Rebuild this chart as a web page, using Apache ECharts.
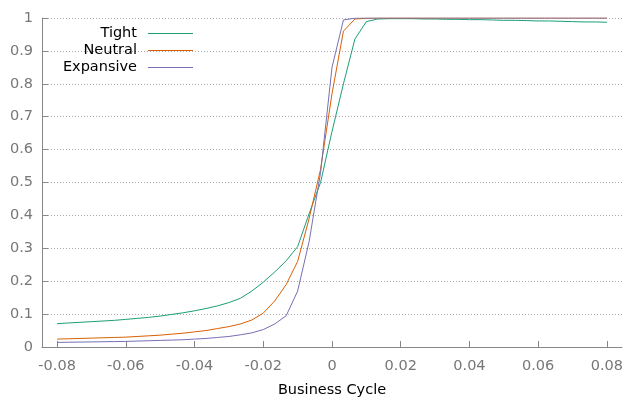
<!DOCTYPE html>
<html>
<head>
<meta charset="utf-8">
<script src="https://cdn.jsdelivr.net/npm/echarts@6/dist/echarts.min.js"></script>
<style>
html,body{margin:0;padding:0;background:#fff;}
#chart{width:627px;height:399px;}
</style>
</head>
<body>
<div id="chart"></div>
<script>
var xs = [-0.08, -0.07667, -0.07333, -0.07, -0.06667, -0.06333, -0.06, -0.05667, -0.05333, -0.05,
  -0.04667, -0.04333, -0.04, -0.03667, -0.03333, -0.03, -0.02667, -0.02333, -0.02, -0.01667,
  -0.01333, -0.01, -0.00667, -0.00333, 0, 0.00333, 0.00667, 0.01, 0.01333, 0.01667,
  0.02, 0.02333, 0.02667, 0.03, 0.03333, 0.03667, 0.04, 0.04333, 0.04667, 0.05,
  0.05333, 0.05667, 0.06, 0.06333, 0.06667, 0.07, 0.07333, 0.07667, 0.08];

var tight = [0.071, 0.073, 0.075, 0.077, 0.079, 0.081, 0.084, 0.087, 0.090, 0.094,
  0.099, 0.104, 0.110, 0.117, 0.125, 0.135, 0.148, 0.170, 0.197, 0.228,
  0.262, 0.305, 0.405, 0.500, 0.655, 0.800, 0.936, 0.989, 0.997, 0.998,
  0.998, 0.998, 0.997, 0.997, 0.996, 0.996, 0.995, 0.995, 0.994, 0.993,
  0.993, 0.992, 0.991, 0.991, 0.990, 0.989, 0.988, 0.988, 0.987];

var neutral = [0.024, 0.025, 0.026, 0.027, 0.028, 0.029, 0.030, 0.032, 0.034, 0.036,
  0.039, 0.042, 0.046, 0.050, 0.056, 0.062, 0.070, 0.082, 0.103, 0.140,
  0.190, 0.260, 0.390, 0.540, 0.770, 0.960, 0.997, 0.999, 1, 1,
  1, 1, 1, 1, 1, 1, 1, 1, 1, 1,
  1, 1, 1, 1, 1, 1, 1, 1, 1];

var expansive = [0.014, 0.0145, 0.015, 0.0155, 0.016, 0.0165, 0.017, 0.018, 0.019, 0.020,
  0.021, 0.022, 0.024, 0.026, 0.029, 0.032, 0.037, 0.043, 0.053, 0.070,
  0.095, 0.170, 0.320, 0.530, 0.850, 0.994, 0.9995, 1, 1, 1,
  1, 1, 1, 1, 1, 1, 1, 1, 1, 1,
  1, 1, 1, 1, 1, 1, 1, 1, 1];

var xTicks = [-0.08, -0.06, -0.04, -0.02, 0, 0.02, 0.04, 0.06, 0.08];
var seriesNames = ['Tight', 'Neutral', 'Expansive'];
var colors = ['#1b9e77', '#d95f02', '#7570b3'];

function pairs(ys) {
  return xs.map(function (x, i) { return [x, ys[i]]; });
}

var FONT = 'DejaVu Sans';
var chart = echarts.init(document.getElementById('chart'), null, {renderer: 'canvas'});

var legendTops = [26, 43, 60];
var legends = seriesNames.map(function (n, i) {
  return {
    data: [{name: n, icon: 'rect'}],
    right: 434,
    top: legendTops[i],
    align: 'right',
    orient: 'vertical',
    itemWidth: 45,
    itemHeight: 1,
    padding: 0,
    selectedMode: false,
    textStyle: {fontFamily: FONT, fontSize: 14.5, color: '#000', padding: [0, 6, 0, 0]}
  };
});

chart.setOption({
  animation: false,
  backgroundColor: '#fff',
  color: colors,
  grid: {left: 42, right: 5, top: 18, bottom: 52, outerBoundsMode: 'none'},
  legend: legends,
  xAxis: {
    type: 'value',
    min: -0.0844,
    max: 0.0844,
    name: 'Business Cycle',
    nameLocation: 'middle',
    nameGap: 36,
    nameTextStyle: {fontFamily: FONT, fontSize: 14.5, color: '#000'},
    axisLine: {show: true, onZero: false, lineStyle: {color: '#888', width: 1}},
    axisTick: {show: true, inside: true, length: 6, customValues: xTicks, lineStyle: {color: '#888'}},
    axisLabel: {
      customValues: xTicks,
      margin: 12,
      fontFamily: FONT, fontSize: 14.5, color: '#777',
      formatter: function (v) { return v === 0 ? '0' : (Math.round(v * 100) / 100).toFixed(2); }
    },
    splitLine: {show: false}
  },
  yAxis: {
    type: 'value',
    min: 0,
    max: 1,
    interval: 0.1,
    axisLine: {show: true, onZero: false, lineStyle: {color: '#888', width: 1}},
    axisTick: {show: true, inside: true, length: 6, lineStyle: {color: '#888'}},
    axisLabel: {
      margin: 9,
      fontFamily: FONT, fontSize: 14.5, color: '#777',
      formatter: function (v) {
        var r = Math.round(v * 10) / 10;
        return (r === 0 || r === 1) ? String(r) : r.toFixed(1);
      }
    },
    splitLine: {show: true, lineStyle: {color: '#aaa', width: 1, type: [1, 2]}}
  },
  series: [
    {name: seriesNames[0], type: 'line', data: pairs(tight), symbol: 'none', lineStyle: {width: 1, color: colors[0]}, itemStyle: {color: colors[0]}},
    {name: seriesNames[1], type: 'line', data: pairs(neutral), symbol: 'none', lineStyle: {width: 1, color: colors[1]}, itemStyle: {color: colors[1]}},
    {name: seriesNames[2], type: 'line', data: pairs(expansive), symbol: 'none', lineStyle: {width: 1, color: colors[2]}, itemStyle: {color: colors[2]}}
  ]
});
</script>
</body>
</html>
